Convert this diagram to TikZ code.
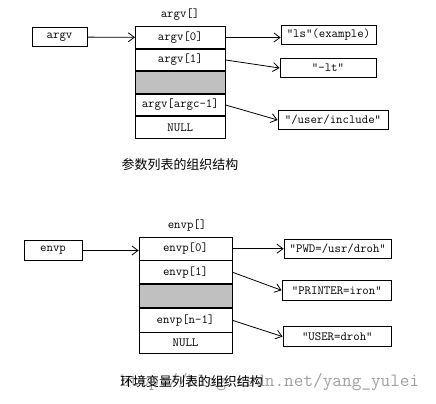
\documentclass[tikz,border=0pt]{standalone}
\usepackage{fontspec}
\newfontfamily\cjkfont{Noto Sans CJK SC}
\usetikzlibrary{arrows.meta,positioning}

\definecolor{cellgray}{RGB}{192,192,192}
\definecolor{markgray}{RGB}{160,160,160}

\tikzset{
  cell/.style={draw, minimum width=90bp, minimum height=21.7bp, inner sep=0pt,
    font=\ttfamily\fontsize{12.5}{13}\selectfont},
  gapcell/.style={cell, fill=cellgray},
  valbox/.style={draw, minimum height=19.5bp, inner sep=0pt,
    font=\ttfamily\fontsize{12.5}{13}\selectfont},
  title/.style={font=\ttfamily\fontsize{12.5}{13}\selectfont},
  caption/.style={font=\cjkfont\fontsize{13}{14}\selectfont},
}

\begin{document}
\begin{tikzpicture}[x=1bp,y=-1bp,line width=0.8bp,>={Straight Barb[length=6bp,width=9bp]}]
  \useasboundingbox (0,0) rectangle (436,403);

  % argument list
  \node[title] (argvtitle) at (180,15) {argv[]};
  \node[valbox, minimum width=55bp] (argv) at (59.5,37) {argv};
  \node[cell] (a0) at (180.3,37.5) {argv[0]};
  \node[cell, below=0pt of a0] (a1) {argv[1]};
  \node[gapcell, below=0pt of a1] (a2) {};
  \node[cell, below=0pt of a2] (a3) {argv[argc-1]};
  \node[cell, below=0pt of a3] (a4) {NULL};

  \node[valbox, minimum width=95bp] (ls) at (328.5,35) {“ls”(example)};
  \node[valbox, minimum width=96bp] (lt) at (328,68) {“-lt”};
  \node[valbox, minimum width=110bp] (inc) at (333,120) {“/user/include”};

  \draw[->] (argv) -- (a0);
  \draw[->] (a0.east) -- (ls.west |- a0.east);
  \draw[->] (a1.east) -- (lt.west);
  \draw[->] (a3.east) -- (inc.west);

  \node[caption] (argvcap) at (180,165) {参数列表的组织结构};

  % environment list
  \node[title] (envptitle) at (187,226) {envp[]};
  \node[valbox, minimum width=58bp] (envp) at (53,250.5) {envp};
  \node[cell, minimum width=93bp, minimum height=22.7bp] (e0) at (185.5,248.7) {envp[0]};
  \node[cell, minimum width=93bp, minimum height=22.7bp, below=0pt of e0] (e1) {envp[1]};
  \node[gapcell, minimum width=93bp, minimum height=23.5bp, below=0pt of e1] (e2) {};
  \node[cell, minimum width=93bp, minimum height=23.3bp, below=0pt of e2] (e3) {envp[n-1]};
  \node[cell, minimum width=93bp, minimum height=20.7bp, below=0pt of e3] (e4) {NULL};

  \node[valbox, minimum width=107.7bp] (pwd) at (337.8,249) {“PWD=/usr/droh”};
  \node[valbox, minimum width=109.7bp] (printer) at (336.8,290.3) {“PRINTER=iron”};
  \node[valbox, minimum width=108.7bp] (user) at (337.3,336.6) {“USER=droh”};

  \draw[->] (envp) -- (e0.west |- envp);
  \draw[->] (e0.east) -- (pwd.west |- e0.east);
  \draw[->] (e1.east) -- (printer.west);
  \draw[->] (e3.east) -- (user.west);

  % watermark under the caption
  \node[anchor=east, text=markgray, font=\ttfamily\fontsize{18.8}{20}\selectfont] (mark) at (423,382) {http://blog.csdn.net/yang\_yulei};
  \node[caption] (envpcap) at (191.5,382) {环境变量列表的组织结构};
\end{tikzpicture}
\end{document}
